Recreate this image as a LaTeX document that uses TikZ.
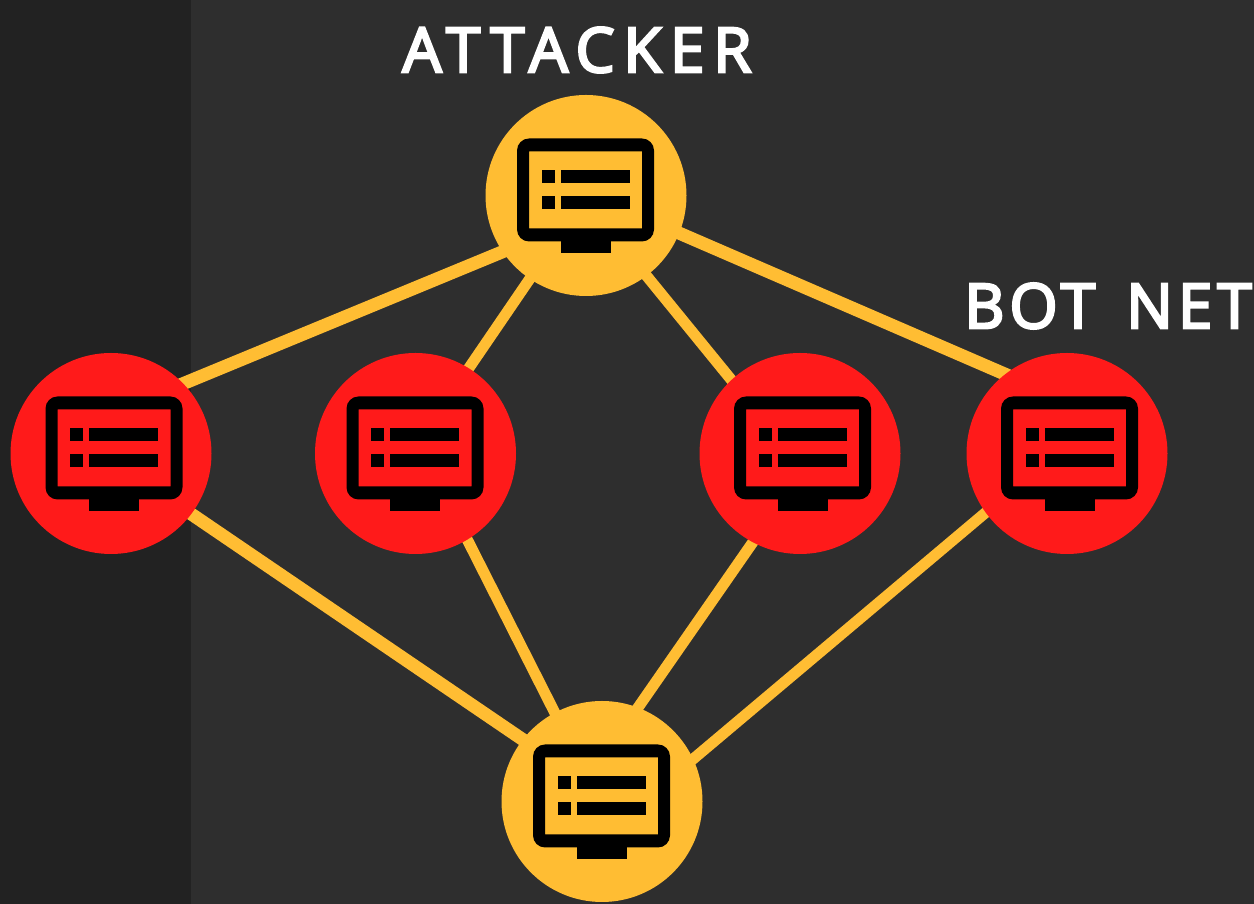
\documentclass[tikz,border=0pt]{standalone}
\usepackage{fontspec}
\setmainfont{Open Sans}
\usetikzlibrary{backgrounds}
\definecolor{panel}{HTML}{2E2E2E}
\definecolor{strip}{HTML}{222222}
\definecolor{amber}{HTML}{FFBD33}
\definecolor{botred}{HTML}{FF1A1A}
\def\titlefont{\fontspec[FakeBold=4,LetterSpace=14]{Open Sans}\fontsize{62}{62}\selectfont}
\def\botfont{\fontspec[FakeBold=4,LetterSpace=8]{Open Sans}\fontsize{62}{62}\selectfont}

\tikzset{
  host/.style={circle, minimum size=201pt, inner sep=0pt},
  chief/.style={host, fill=amber},
  bot/.style={host, fill=botred},
  link/.style={amber, line width=11pt, shorten <=-4pt, shorten >=-4pt},
  wide link/.style={link, line width=13pt},
  title/.style={text=white, inner sep=0pt, font=\titlefont},
  monitor/.pic={
    \fill[black, even odd rule, rounded corners=12pt]
      (-69,-46) rectangle (68,57)
      [sharp corners] (-57,-33) rectangle (56,44);
    \fill[black] (-25.5,-58) rectangle (24.5,-46);
    \fill[black] (-44.5,12) rectangle (-31.5,25);
    \fill[black] (-44.5,-14) rectangle (-31.5,-1);
    \fill[black] (-25.5,12) rectangle (43.5,25);
    \fill[black] (-25.5,-14) rectangle (43.5,-1);
  }
}

\begin{document}
\begin{tikzpicture}[x=1pt, y=1pt]
      \useasboundingbox (0,0) rectangle (1254,904);

      % Hosts
      \node[chief] (attacker) at (586,708.5) {};
      \node[bot] (botA) at (111,450.5) {};
      \node[bot] (botB) at (415.5,450.5) {};
      \node[bot] (botC) at (800,450.5) {};
      \node[bot] (botD) at (1067,450.5) {};
      \node[chief] (target) at (602,102.5) {};

      % Screens
      \path (attacker.center) pic {monitor};
      \path ([xshift=3.5pt]botA.center) pic {monitor};
      \path (botB.center) pic {monitor};
      \path ([xshift=3pt]botC.center) pic {monitor};
      \path ([xshift=3pt]botD.center) pic {monitor};
      \path (target.center) pic {monitor};

      % Titles
      \node[title] (attackerTitle) at (577,854) {ATTACKER};
      \node[title, font=\botfont] (botTitle) at (1108,598) {BOT\hspace{10pt} NET};

      \begin{scope}[on background layer]
        % Panel
        \fill[panel] (0,0) rectangle (1254,904);
        \fill[strip] (0,0) rectangle (191,904);

        % Attacker to bots
        \draw[wide link] (attacker.214) -- (botA.44);
        \draw[link] (attacker.236) -- (botB.58);
        \draw[link] (attacker.307) -- (botC.133);
        \draw[wide link] (attacker.338) -- (botD.128);

        % Bots to target
        \draw[wide link] (botA.323) -- (target.142);
        \draw[link] (botB.301) -- (target.118);
        \draw[link] (botC.242) -- (target.69);
        \draw[link] (botD.216) -- (target.25);
      \end{scope}
\end{tikzpicture}
\end{document}
